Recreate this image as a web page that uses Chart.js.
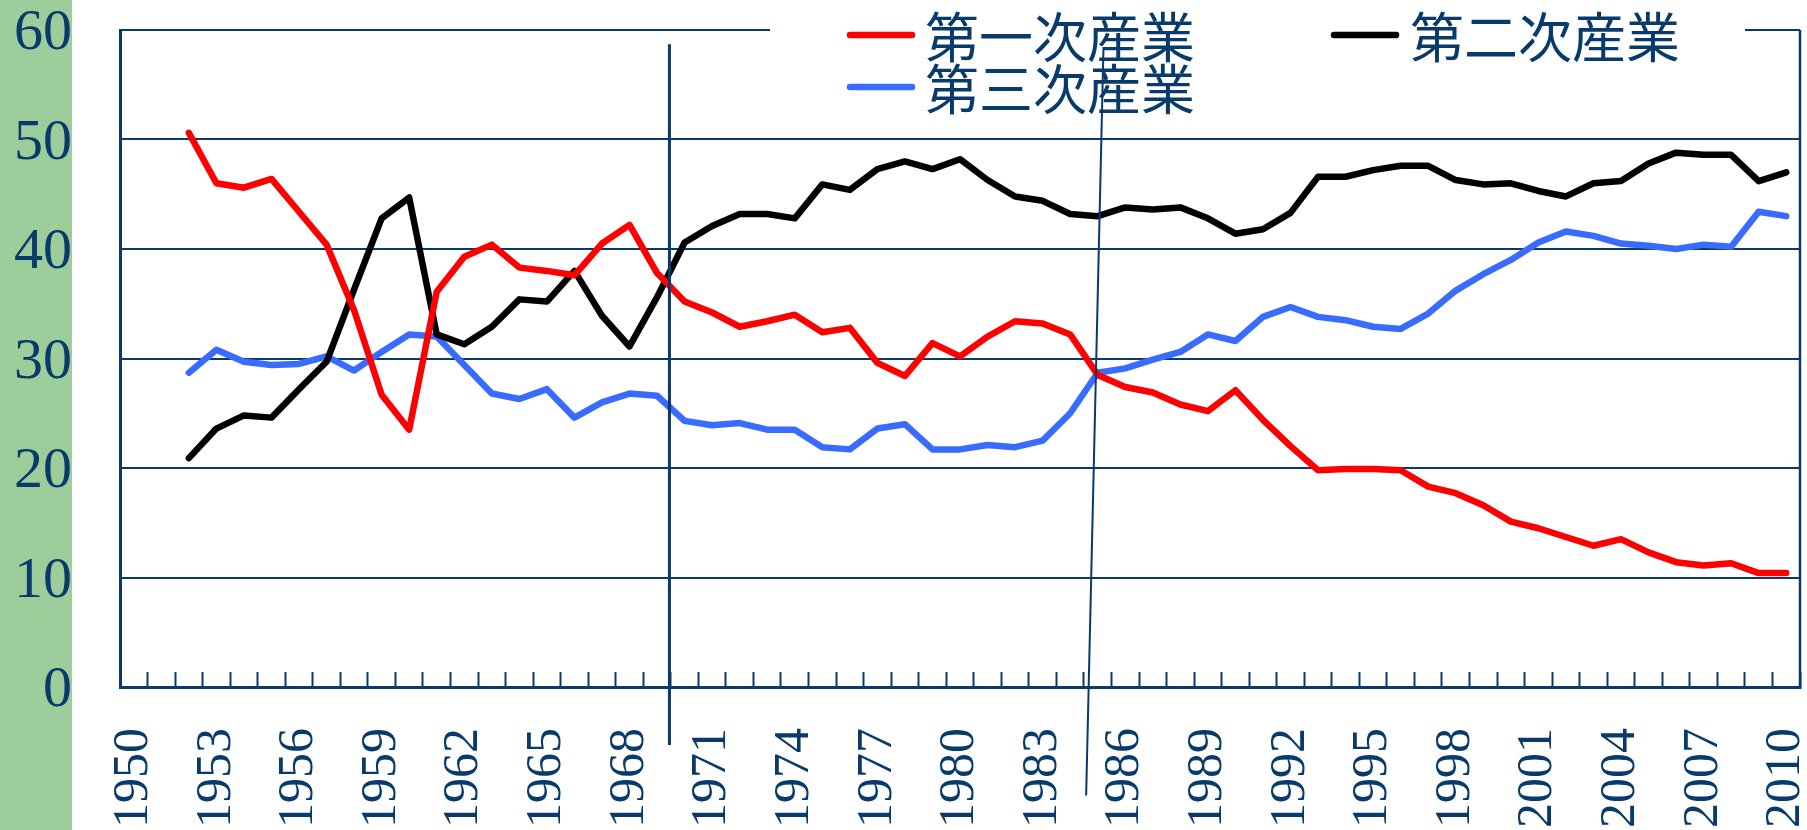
<!DOCTYPE html>
<html lang="ja">
<head>
<meta charset="utf-8">
<script src="https://cdn.jsdelivr.net/npm/chart.js@4.4.1/dist/chart.umd.min.js"></script>
<style>
  html, body { margin: 0; padding: 0; background: #fff; }
  #wrap { position: relative; width: 1807px; height: 830px; overflow: hidden; }
  #band { position: absolute; left: 0; top: 0; width: 72px; height: 830px; background: #9ccd9a; }
  #chart { position: absolute; left: 0; top: 0; }
</style>
</head>
<body>
<div id="wrap"><div id="band"></div><canvas id="chart" width="1807" height="830"></canvas></div>
<script>
const years = ['1950','1951','1952','1953','1954','1955','1956','1957','1958','1959',
  '1960','1961','1962','1963','1964','1965','1966','1967','1968','1969',
  '1970','1971','1972','1973','1974','1975','1976','1977','1978','1979',
  '1980','1981','1982','1983','1984','1985','1986','1987','1988','1989',
  '1990','1991','1992','1993','1994','1995','1996','1997','1998','1999',
  '2000','2001','2002','2003','2004','2005','2006','2007','2008','2009','2010'];

const primary = [null, null, 50.6, 46.0, 45.6, 46.4, 43.4, 40.4, 34.4, 26.7,
  23.5, 36.1, 39.3, 40.4, 38.3, 38.0, 37.6, 40.5, 42.2, 37.8,
  35.2, 34.2, 32.9, 33.4, 34.0, 32.4, 32.8, 29.6, 28.4, 31.4,
  30.2, 32.0, 33.4, 33.2, 32.2, 28.5, 27.4, 26.9, 25.8, 25.2,
  27.1, 24.4, 22.0, 19.8, 19.9, 19.9, 19.8, 18.3, 17.7, 16.6,
  15.1, 14.5, 13.7, 12.9, 13.5, 12.3, 11.4, 11.1, 11.3, 10.4, 10.4];

const secondary = [null, null, 20.9, 23.6, 24.8, 24.6, 27.2, 29.7, 36.3, 42.8,
  44.7, 32.2, 31.3, 32.9, 35.4, 35.2, 38.0, 33.9, 31.1, 35.6,
  40.6, 42.1, 43.2, 43.2, 42.8, 45.9, 45.4, 47.3, 48.0, 47.3,
  48.2, 46.3, 44.8, 44.4, 43.2, 43.0, 43.8, 43.6, 43.8, 42.8,
  41.4, 41.8, 43.3, 46.6, 46.6, 47.2, 47.6, 47.6, 46.3, 45.9,
  46.0, 45.3, 44.8, 46.0, 46.2, 47.8, 48.8, 48.6, 48.6, 46.2, 47.0];

const tertiary = [null, null, 28.7, 30.8, 29.7, 29.4, 29.5, 30.2, 28.9, 30.6,
  32.2, 32.0, 29.4, 26.8, 26.3, 27.2, 24.6, 26.0, 26.8, 26.6,
  24.3, 23.9, 24.1, 23.5, 23.5, 21.9, 21.7, 23.6, 24.0, 21.7,
  21.7, 22.1, 21.9, 22.5, 25.0, 28.7, 29.1, 29.9, 30.6, 32.2,
  31.6, 33.8, 34.7, 33.8, 33.5, 32.9, 32.7, 34.1, 36.2, 37.7,
  39.0, 40.6, 41.6, 41.2, 40.5, 40.3, 40.0, 40.4, 40.2, 43.4, 43.0];

const seriesNames = ['第一次産業', '第二次産業', '第三次産業'];
const seriesColors = ['#ff0000', '#000000', '#3a6bff'];

// the two period lines drawn over the original, as [year, value] ends
const markLines = [
  { from: [1969.45, 58.7], to: [1969.45, -5.3], width: 3 },
  { from: [1985.21, 58.45], to: [1984.58, -9.9], width: 2 }
];

const navy = '#083a6b';

// legend boxes: [marker start, marker end, text x, y]
const legendSpots = [
  [850, 912, 925, 35],
  [1334, 1396, 1410, 35],
  [850, 912, 925, 87]
];

const frame = {
  id: 'frame',
  beforeDatasetsDraw(chart) {
    const { ctx, chartArea: a } = chart;
    ctx.save();
    ctx.strokeStyle = navy;
    ctx.lineWidth = 2.5;
    ctx.beginPath();
    ctx.moveTo(a.right, a.top);
    ctx.lineTo(a.right, a.bottom);
    ctx.stroke();
    // the legend sits on the top border
    ctx.fillStyle = '#fff';
    ctx.fillRect(770, 0, 975, 112);
    ctx.restore();
  },
  afterDatasetsDraw(chart) {
    const { ctx } = chart;
    ctx.save();
    chart.data.datasets.forEach((ds, i) => {
      const [m1, m2, tx, ty] = legendSpots[i];
      ctx.strokeStyle = ds.borderColor;
      ctx.lineWidth = 6.5;
      ctx.lineCap = 'round';
      ctx.beginPath();
      ctx.moveTo(m1, ty);
      ctx.lineTo(m2, ty);
      ctx.stroke();
      ctx.fillStyle = navy;
      ctx.font = '54px "Noto Sans CJK JP"';
      ctx.textBaseline = 'middle';
      ctx.textAlign = 'left';
      ctx.fillText(ds.label, tx, ty + 2);
    });

    const xs = chart.scales.x, ys = chart.scales.y;
    const base = Number(years[0]);
    ctx.strokeStyle = navy;
    ctx.lineCap = 'butt';
    markLines.forEach(l => {
      ctx.lineWidth = l.width;
      ctx.beginPath();
      ctx.moveTo(xs.getPixelForValue(l.from[0] - base), ys.getPixelForValue(l.from[1]));
      ctx.lineTo(xs.getPixelForValue(l.to[0] - base), ys.getPixelForValue(l.to[1]));
      ctx.stroke();
    });
    ctx.restore();
  }
};

const series = [primary, secondary, tertiary];

new Chart(document.getElementById('chart'), {
  type: 'line',
  data: {
    labels: years,
    datasets: series.map((vals, i) => ({
      label: seriesNames[i],
      data: vals,
      borderColor: seriesColors[i],
      backgroundColor: seriesColors[i],
      borderWidth: 6.5,
      borderJoinStyle: 'round',
      borderCapStyle: 'round',
      pointRadius: 0,
      tension: 0,
      fill: false
    }))
  },
  options: {
    responsive: false,
    animation: false,
    devicePixelRatio: 1,
    layout: { padding: { top: 30, right: 7, left: 0, bottom: 0 } },
    plugins: { legend: { display: false }, tooltip: { enabled: false } },
    scales: {
      x: {
        type: 'category',
        offset: true,
        grid: { offset: true, drawOnChartArea: false, drawTicks: true, tickLength: -15, tickColor: navy, tickWidth: 2 },
        border: { display: true, color: navy, width: 3 },
        ticks: {
          autoSkip: false,
          minRotation: 90,
          maxRotation: 90,
          padding: 56,
          color: navy,
          font: { family: 'Liberation Serif', size: 50 },
          callback: function (v, i) { return i % 3 === 0 ? this.getLabelForValue(v) : ''; }
        },
        afterFit(s) { s.height = 143; s.paddingLeft = 0; s.paddingRight = 0; }
      },
      y: {
        min: 0,
        max: 60,
        ticks: { stepSize: 10, padding: 48, labelOffset: 4, color: navy, font: { family: 'Liberation Serif', size: 58 } },
        grid: { color: navy, lineWidth: 2, drawTicks: false },
        border: { display: true, color: navy, width: 3 },
        afterFit(s) { s.width = 120; s.paddingTop = 0; s.paddingBottom = 0; }
      }
    }
  },
  plugins: [frame]
});
</script>
</body>
</html>
